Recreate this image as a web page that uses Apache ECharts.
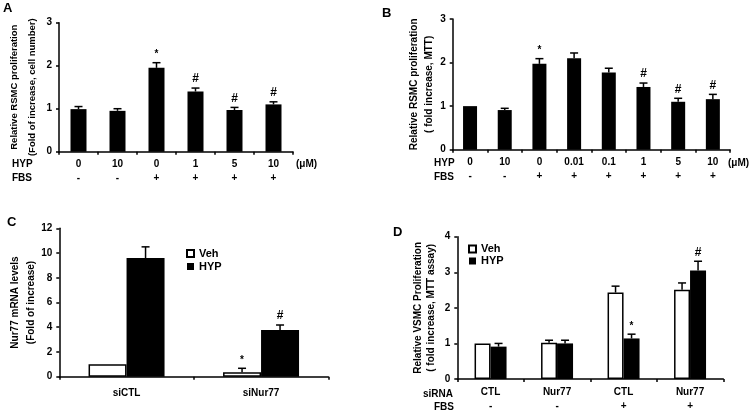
<!DOCTYPE html>
<html><head><meta charset="utf-8">
<script src="https://cdn.jsdelivr.net/npm/echarts@6/dist/echarts.min.js"></script>
<style>html,body{margin:0;padding:0;background:#fff}#c{width:750px;height:413px}</style>
</head><body><div id="c"></div>
<script>
// Panel A
const aHyp = ['0','10','0','1','5','10'];
const aFbs = ['-','-','+','+','+','+'];
const aVals = [0.99, 0.95, 1.95, 1.40, 0.97, 1.10];
const aErr = [0.06, 0.05, 0.12, 0.08, 0.06, 0.06];
const aMarks = ['', '', '*', '#', '#', '#'];
// Panel B
const bHyp = ['0','10','0','0.01','0.1','1','5','10'];
const bFbs = ['-','-','+','+','+','+','+','+'];
const bVals = [1.0, 0.91, 1.97, 2.10, 1.77, 1.44, 1.10, 1.16];
const bErr = [0, 0.04, 0.12, 0.12, 0.10, 0.09, 0.08, 0.11];
const bMarks = ['', '', '*', '', '', '#', '#', '#'];
// Panel C
const cCats = ['siCTL','siNur77'];
const cVeh = [1.0, 0.35];
const cVehErr = [0, 0.33];
const cVehMarks = ['', '*'];
const cHyp = [9.6, 3.78];
const cHypErr = [0.9, 0.4];
const cHypMarks = ['', '#'];
// Panel D
const dSi = ['CTL','Nur77','CTL','Nur77'];
const dFbs = ['-','-','+','+'];
const dVeh = [1.0, 1.02, 2.43, 2.51];
const dVehErr = [0, 0.07, 0.18, 0.19];
const dVehMarks = ['', '', '', ''];
const dHyp = [0.91, 1.0, 1.14, 3.05];
const dHypErr = [0.09, 0.09, 0.12, 0.26];
const dHypMarks = ['', '', '*', '#'];

const FF = '"Liberation Sans", Arial, sans-serif';
const txt = {color:'#000', fontFamily:FF, fontWeight:'bold', fontSize:10};

function xAx(gi, labels) {
  return {type:'category', gridIndex:gi, data:labels,
    axisLine:{lineStyle:{color:'#000', width:1.5}},
    axisTick:{show:true, interval:0, length:3, lineStyle:{color:'#000', width:1.5}},
    axisLabel:Object.assign({interval:0, margin:6, lineHeight:14}, txt)};
}
function yAx(gi, max, interval, name, gap, lh, fs) {
  return {type:'value', gridIndex:gi, min:0, max:max, interval:interval,
    name:name, nameLocation:'middle', nameGap:gap, nameMoveOverlap:false,
    nameTextStyle:Object.assign({}, txt, {lineHeight:lh, fontSize:fs}),
    splitLine:{show:false},
    axisLine:{show:true, lineStyle:{color:'#000', width:1.5}},
    axisTick:{show:true, length:3, lineStyle:{color:'#000', width:1.5}},
    axisLabel:Object.assign({margin:7}, txt)};
}
function errSeries(xi, vals, errs, marks, offset) {
  return {type:'custom', xAxisIndex:xi, yAxisIndex:xi, silent:true, z:5,
    data: vals.map((v,i)=>[i, v, errs[i]]),
    renderItem: function(params, api) {
      const i = api.value(0), v = api.value(1), e = api.value(2);
      const b = api.coord([i, v]), t = api.coord([i, v + e]);
      const x = b[0] + offset;
      const ch = [];
      if (e > 0) {
        ch.push({type:'line', shape:{x1:x, y1:b[1], x2:x, y2:t[1]}, style:{stroke:'#000', lineWidth:1.5}});
        ch.push({type:'line', shape:{x1:x-4, y1:t[1], x2:x+4, y2:t[1]}, style:{stroke:'#000', lineWidth:1.5}});
      }
      const m = marks[params.dataIndex];
      if (m) ch.push({type:'text', x:x, y:t[1] - 3, style:{text:m, fill:'#000', font:'bold ' + (m === '*' ? 10 : 12) + 'px ' + FF, align:'center', verticalAlign:'bottom'}});
      return {type:'group', children:ch};
    }};
}
const black = {color:'#000'};
const white = {color:'#fff', borderColor:'#000', borderWidth:1.5};

function gtext(x, y, s, size, align) {
  return {type:'text', x:x, y:y, style:{text:s, fill:'#000', font:'bold ' + size + 'px ' + FF, align:align || 'left', verticalAlign:'middle'}};
}
const legTxt = Object.assign({}, txt, {fontSize:11});

const option = {
  animation:false,
  backgroundColor:'#fff',
  grid:[
    {left:59, top:22.7, width:234, height:129},
    {left:452.7, top:19, width:277.5, height:130.7},
    {left:59.3, top:228.3, width:269, height:148.4},
    {left:457.3, top:236.7, width:266, height:146}
  ],
  xAxis:[
    xAx(0, aHyp.map((h,i)=>h + '\n' + aFbs[i])),
    xAx(1, bHyp.map((h,i)=>h + '\n' + bFbs[i])),
    Object.assign(xAx(2, cCats), {axisLabel:Object.assign({interval:0, margin:12}, txt)}),
    xAx(3, dSi.map((h,i)=>h + '\n' + dFbs[i]))
  ],
  yAxis:[
    yAx(0, 3, 1, 'Relative RSMC proliferation\n(Fold of increase, cell number)', 18, 18, 9.5),
    yAx(1, 3, 1, 'Relative RSMC proliferation\n( fold increase, MTT)', 15.5, 15, 10),
    yAx(2, 12, 2, 'Nur77 mRNA levels\n(Fold of increase)', 20, 16, 10),
    yAx(3, 4, 1, 'Relative VSMC Proliferation\n( fold increase, MTT assay)', 19, 13.5, 10)
  ],
  legend:[
    {left:186, top:248, padding:0, orient:'vertical', itemWidth:7, itemHeight:7, itemGap:2, icon:'rect', data:['Veh','HYP'], textStyle:legTxt, selectedMode:false},
    {left:468, top:243.5, padding:0, orient:'vertical', itemWidth:7, itemHeight:7, itemGap:1, icon:'rect', data:['Veh','HYP'], textStyle:legTxt, selectedMode:false}
  ],
  series:[
    {type:'bar', xAxisIndex:0, yAxisIndex:0, data:aVals, barWidth:16, itemStyle:black},
    errSeries(0, aVals, aErr, aMarks, 0),
    {type:'bar', xAxisIndex:1, yAxisIndex:1, data:bVals, barWidth:14, itemStyle:black},
    errSeries(1, bVals, bErr, bMarks, 0),
    {type:'bar', name:'Veh', xAxisIndex:2, yAxisIndex:2, data:cVeh, barWidth:38, barGap:'0%', itemStyle:white},
    {type:'bar', name:'HYP', xAxisIndex:2, yAxisIndex:2, data:cHyp, barWidth:38, barGap:'0%', itemStyle:black},
    errSeries(2, cVeh, cVehErr, cVehMarks, -19),
    errSeries(2, cHyp, cHypErr, cHypMarks, 19),
    {type:'bar', name:'Veh', xAxisIndex:3, yAxisIndex:3, data:dVeh, barWidth:16, barGap:'0%', itemStyle:white},
    {type:'bar', name:'HYP', xAxisIndex:3, yAxisIndex:3, data:dHyp, barWidth:16, barGap:'0%', itemStyle:black},
    errSeries(3, dVeh, dVehErr, dVehMarks, -8),
    errSeries(3, dHyp, dHypErr, dHypMarks, 8)
  ],
  graphic:[
    gtext(3, 8, 'A', 13),
    gtext(382, 13, 'B', 13),
    gtext(7, 222, 'C', 13),
    gtext(393, 232, 'D', 13),
    gtext(12, 164, 'HYP', 10),
    gtext(12, 178, 'FBS', 10),
    gtext(296, 164, '(μM)', 10),
    gtext(434, 163, 'HYP', 10),
    gtext(434, 177, 'FBS', 10),
    gtext(728, 163, '(μM)', 10),
    gtext(423, 394, 'siRNA', 10),
    gtext(434, 407, 'FBS', 10)
  ]
};
const chart = echarts.init(document.getElementById('c'), null, {renderer:'canvas'});
chart.setOption(option);
</script>
</body></html>
